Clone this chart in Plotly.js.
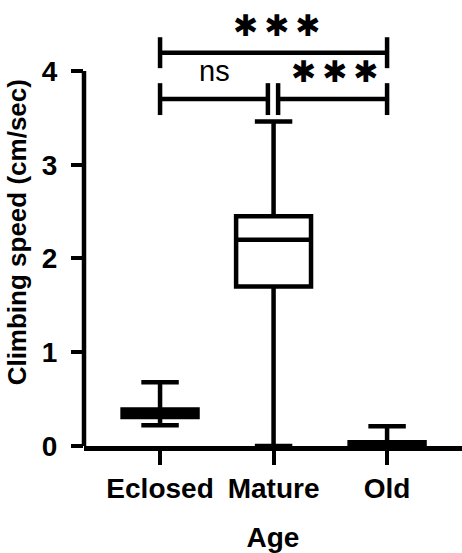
<!DOCTYPE html>
<html>
<head>
<meta charset="utf-8">
<script src="https://cdn.plot.ly/plotly-3.0.1.min.js"></script>
<style>html,body{margin:0;padding:0;background:#fff;}#chart{width:462px;height:553px;}</style>
</head>
<body>
<div id="chart"></div>
<script>
// Data
const categories = ["Eclosed", "Mature", "Old"];
const lowerWhisker = [0.22, 0.00, 0.00];
const q1Values = [0.31, 1.70, 0.00];
const medianValues = [0.35, 2.20, 0.02];
const q3Values = [0.39, 2.45, 0.04];
const upperWhisker = [0.68, 3.46, 0.21];
const yTicks = [0, 1, 2, 3, 4];
// significance comparisons: [from index, to index, label]
const comparisons = [[0, 2, "***"], [0, 1, "ns"], [1, 2, "***"]];

const FONT = "Liberation Sans, Arial, sans-serif";
const traces = [{
  type: "box",
  x: categories,
  q1: q1Values,
  median: medianValues,
  q3: q3Values,
  lowerfence: lowerWhisker,
  upperfence: upperWhisker,
  boxpoints: false,
  width: 0.66,
  whiskerwidth: 0.5,
  fillcolor: "white",
  line: {color: "black", width: 4.5},
  hoverinfo: "skip",
  showlegend: false
}];

const lw = 4.5;
const shapes = [
  // y axis line from 0 to last tick
  {type: "line", xref: "paper", yref: "y", x0: 0, x1: 0, y0: 0, y1: yTicks[yTicks.length - 1], line: {color: "black", width: 4.5}}
];
// bracket geometry
const levels = [4.195, 3.70];
const tickHalf = [0.165, 0.17];
function bracket(a, b, level, half) {
  shapes.push({type: "line", xref: "x", yref: "y", x0: a, x1: b, y0: level, y1: level, line: {color: "black", width: lw}});
  shapes.push({type: "line", xref: "x", yref: "y", x0: a, x1: a, y0: level - half, y1: level + half, line: {color: "black", width: lw}});
  shapes.push({type: "line", xref: "x", yref: "y", x0: b, x1: b, y0: level - half, y1: level + half, line: {color: "black", width: lw}});
}
bracket(comparisons[0][0], comparisons[0][1], levels[0], tickHalf[0]);
bracket(comparisons[1][0], comparisons[1][1] - 0.05, levels[1], tickHalf[1]);
bracket(comparisons[2][0] + 0.04, comparisons[2][1], levels[1], tickHalf[1]);

function stars(label) { return label.split("").map(function () { return "✱"; }).join("\u2009"); }
const starFont = {family: "DejaVu Sans", size: 30, color: "black"};
const annotations = [
  {x: 1.03, y: 4.48, xref: "x", yref: "y", text: stars(comparisons[0][2]), showarrow: false, font: starFont},
  {x: 0.48, y: 4.00, xref: "x", yref: "y", text: comparisons[1][2], showarrow: false, font: {family: FONT, size: 29, color: "black"}},
  {x: 1.54, y: 3.99, xref: "x", yref: "y", text: stars(comparisons[2][2]), showarrow: false, font: starFont},
  // y axis title
  {x: 0, y: 0.479, xref: "paper", yref: "paper", xshift: -67, xanchor: "center", yanchor: "middle",
   textangle: -90, showarrow: false, text: "<b>Climbing speed (cm/sec)</b>",
   font: {family: FONT, size: 26, color: "black"}}
];

const layout = {
  width: 462, height: 553,
  margin: {l: 84, r: 0, t: 0, b: 107},
  paper_bgcolor: "white", plot_bgcolor: "white",
  showlegend: false,
  font: {family: FONT, color: "black"},
  xaxis: {
    type: "category",
    range: [-0.67, 2.66],
    showline: true, linecolor: "black", linewidth: 4.5,
    ticks: "outside", ticklen: 14, tickwidth: 4, tickcolor: "black",
    tickfont: {family: FONT, size: 28, color: "black", weight: "bold"},
    showgrid: false, zeroline: false,
    title: {text: "<b>Age</b>", font: {family: FONT, size: 28, color: "black"}, standoff: 32}
  },
  yaxis: {
    range: [0, 4.757],
    tickvals: yTicks,
    showline: false,
    ticks: "outside", ticklen: 12, tickwidth: 4, tickcolor: "black",
    ticklabelstandoff: 8,
    tickfont: {family: FONT, size: 28, color: "black", weight: "bold"},
    showgrid: false, zeroline: false
  },
  shapes: shapes,
  annotations: annotations
};

Plotly.newPlot("chart", traces, layout, {staticPlot: true, displayModeBar: false});
</script>
</body>
</html>
